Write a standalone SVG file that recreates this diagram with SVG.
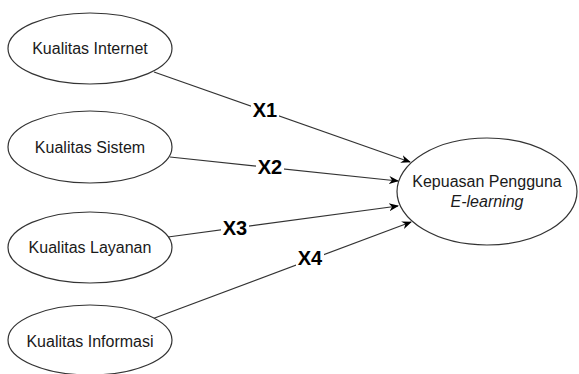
<svg xmlns="http://www.w3.org/2000/svg" width="579" height="374" viewBox="0 0 579 374">
  <style>
    .node ellipse { fill: #ffffff; stroke: #333333; stroke-width: 1.2; }
    .node text { font-family: "Liberation Sans", Arial, sans-serif; font-size: 16px; fill: #1a1a1a; text-anchor: middle; }
    .edge line { stroke: #333333; stroke-width: 1.2; marker-end: url(#arrow); }
    .lbl rect { fill: #ffffff; }
    .lbl text { font-family: "Liberation Sans", Arial, sans-serif; font-size: 20px; font-weight: bold; fill: #000000; text-anchor: middle; }
  </style>
  <defs>
    <marker id="arrow" viewBox="0 0 10 10" refX="9" refY="5" markerWidth="10" markerHeight="10" markerUnits="userSpaceOnUse" orient="auto">
      <path d="M0,1 L10,5 L0,9 L3,5 Z" fill="#000000"/>
    </marker>
  </defs>
  <rect width="579" height="374" fill="#ffffff"/>

  <g id="connectors">
    <g class="edge">
      <line x1="154" y1="72" x2="410" y2="162"/>
      <line x1="170" y1="157" x2="398" y2="181"/>
      <line x1="168" y1="237" x2="398" y2="206"/>
      <line x1="152" y1="319" x2="411" y2="222"/>
    </g>
    <g class="lbl">
      <rect x="251" y="100" width="28" height="20"/>
      <text x="265" y="117">X1</text>
      <rect x="256" y="157" width="28" height="20"/>
      <text x="270" y="174">X2</text>
      <rect x="221" y="218" width="28" height="20"/>
      <text x="235" y="235">X3</text>
      <rect x="296" y="248" width="28" height="20"/>
      <text x="310" y="265">X4</text>
    </g>
  </g>

  <g id="node-internet" class="node">
    <ellipse cx="90" cy="48.5" rx="82" ry="35.5"/>
    <text x="90" y="54">Kualitas Internet</text>
  </g>
  <g id="node-sistem" class="node">
    <ellipse cx="90" cy="147" rx="82" ry="36"/>
    <text x="90" y="153">Kualitas Sistem</text>
  </g>
  <g id="node-layanan" class="node">
    <ellipse cx="90" cy="247.5" rx="82" ry="35.5"/>
    <text x="90" y="253">Kualitas Layanan</text>
  </g>
  <g id="node-informasi" class="node">
    <ellipse cx="90" cy="340" rx="82" ry="35"/>
    <text x="90" y="347">Kualitas Informasi</text>
  </g>
  <g id="node-kepuasan" class="node">
    <ellipse cx="487" cy="191.5" rx="90" ry="53.5"/>
    <text x="487" y="187">Kepuasan Pengguna</text>
    <text x="487" y="207" font-style="italic">E-learning</text>
  </g>
</svg>
